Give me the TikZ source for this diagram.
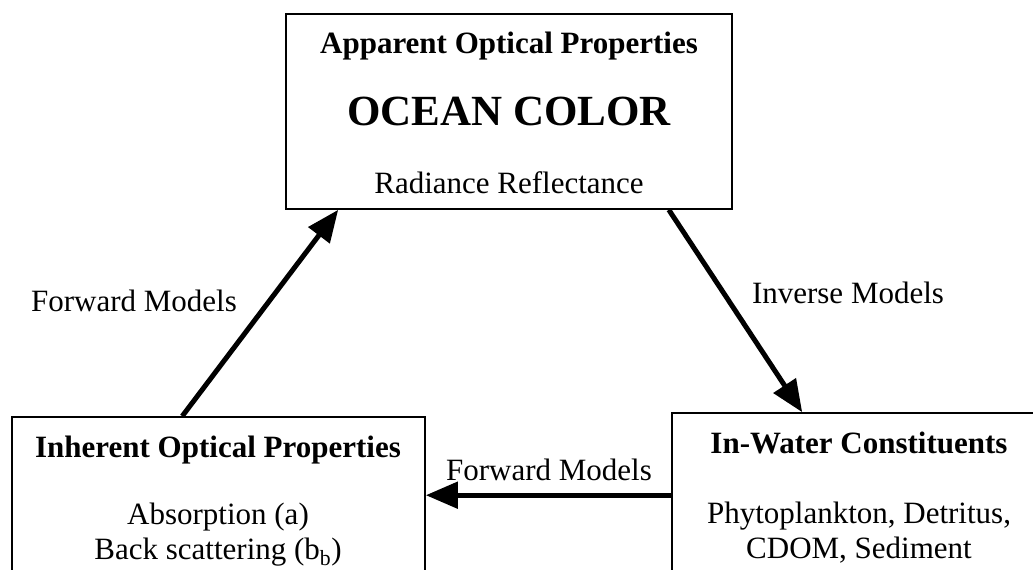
\documentclass[tikz,border=0pt]{standalone}
\usepackage{fontspec}
\setmainfont{Liberation Serif}
\usetikzlibrary{arrows.meta}
\begin{document}
\begin{tikzpicture}[x=1pt,y=-1pt,
  box/.style={draw, line width=1.6pt, inner sep=0pt},
  txt/.style={anchor=base, inner sep=0pt, font=\fontsize{31}{37}\selectfont},
  btxt/.style={anchor=base, inner sep=0pt, font=\fontsize{31}{37}\selectfont\bfseries},
  big/.style={anchor=base, inner sep=0pt, font=\fontsize{43}{50}\selectfont\bfseries},
  conn/.style={line width=5pt, -{Triangle[length=32pt,width=26pt]}}]
\useasboundingbox (0,0) rectangle (1033,570);
\clip (0,0) rectangle (1033,570);
% boxes
\node[box, minimum width=446pt, minimum height=195pt] (aop) at (509,111.5) {};
\node[box, minimum width=413pt, minimum height=200pt] (iop) at (218.5,517) {};
\node[box, minimum width=374pt, minimum height=200pt] (iwc) at (859,513) {};
% texts top
\node[btxt] (t1) at (509,53) {Apparent Optical Properties};
\node[big]  (t2) at (509,125) {OCEAN COLOR};
\node[txt]  (t3) at (509,193) {Radiance Reflectance};
% texts bottom left
\node[btxt] (l1) at (218,457) {Inherent Optical Properties};
\node[txt]  (l2) at (218,524) {Absorption (a)};
\node[txt]  (l3) at (218,559) {Back scattering (b\textsubscript{b})};
% texts bottom right
\node[btxt] (r1) at (859,453) {In-Water Constituents};
\node[txt]  (r2) at (859,523) {Phytoplankton, Detritus,};
\node[txt]  (r3) at (859,558) {CDOM, Sediment};
% connector labels
\node[txt] (fm1) at (134,311) {Forward Models};
\node[txt] (im)  at (848,303) {Inverse Models};
\node[txt] (fm2) at (549,480) {Forward Models};
% connectors
\draw[conn] ([xshift=171pt]iop.north west) -- ([xshift=53pt]aop.south west);
\draw[conn] ([xshift=-64pt]aop.south east) -- ([xshift=131pt]iwc.north west);
\draw[conn] ([yshift=-83pt]iwc.north west) -- ([yshift=-79pt]iop.north east);
\end{tikzpicture}
\end{document}
